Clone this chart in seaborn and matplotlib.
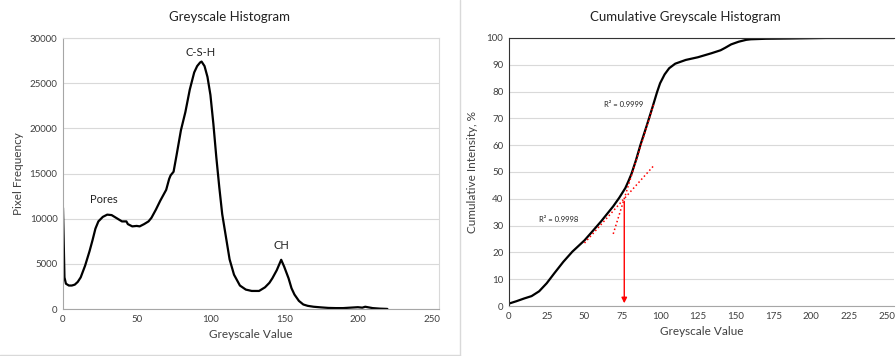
"""Greyscale histogram and cumulative histogram"""

import numpy as np
import pandas as pd
import seaborn as sns
import matplotlib.pyplot as plt
from matplotlib.lines import Line2D

sns.set_style("white")
plt.rcParams["font.family"] = ["Lato", "DejaVu Sans"]

# greyscale histogram
grey_values = [0, 1, 2, 4, 6, 8, 10, 12, 15, 18, 20, 22, 24, 27, 30, 33, 36, 40, 43,
               44, 47, 50, 52, 55, 58, 60, 63, 66, 70, 72, 73, 75, 77, 80, 83, 86, 89,
               91, 93, 94, 96, 98, 100, 102, 104, 106, 108, 110, 113, 116, 120, 124,
               128, 133, 137, 140, 142, 145, 148, 150, 153, 155, 157, 160, 163, 166,
               170, 175, 180, 185, 190, 195, 200, 203, 205, 210, 215, 220]
pixel_freq = [11200, 3500, 2800, 2600, 2600, 2700, 3000, 3500, 4800, 6400, 7600, 8900,
              9700, 10200, 10450, 10400, 10100, 9700, 9700, 9400, 9150, 9200, 9150,
              9400, 9700, 10100, 11000, 12000, 13200, 14400, 14800, 15200, 17000,
              19800, 21800, 24300, 26200, 26900, 27300, 27400, 26900, 25700, 23700,
              20500, 16800, 13500, 10500, 8500, 5500, 3800, 2600, 2150, 2000, 2000,
              2400, 2900, 3400, 4300, 5450, 4700, 3400, 2300, 1600, 900, 500, 350,
              250, 180, 120, 100, 100, 150, 200, 150, 250, 100, 40, 10]

# cumulative curve
cum_grey = [0, 5, 10, 15, 20, 25, 30, 36, 42, 50, 55, 61, 65, 69, 73, 77, 79, 81, 84,
            87, 91, 95, 98, 100, 103, 106, 110, 117, 125, 134, 140, 143, 147, 152,
            157, 160, 170, 186, 210, 255]
cum_pct = [0.9, 1.8, 2.8, 3.7, 5.5, 8.5, 12.2, 16.5, 20.3, 24.5, 27.7, 31.6, 34.4, 37.2,
           40.4, 44.0, 46.5, 49.2, 54.3, 60.1, 67.0, 74.2, 79.8, 83.1, 86.4, 88.7,
           90.4, 91.8, 92.8, 94.3, 95.4, 96.3, 97.6, 98.6, 99.3, 99.5, 99.7, 99.8,
           100.0, 100.0]

# linear fits (start/end points)
fit1_x = [50, 95.4]
fit1_y = [23.5, 52.1]
fit2_x = [69, 96]
fit2_y = [26.9, 75.6]

hist = pd.DataFrame({"Greyscale Value": grey_values, "Pixel Frequency": pixel_freq})
cum = pd.DataFrame({"Greyscale Value": cum_grey, "Cumulative": cum_pct})

fig = plt.figure(figsize=(8.96, 3.56), dpi=100)
ax1 = fig.add_axes([0.0703, 0.132, 0.4196, 0.761])
ax2 = fig.add_axes([0.568, 0.1404, 0.4302, 0.753])

grid_col = "#d9d9d9"
spine_col = "#a6a6a6"
text_col = "#404040"

# left: histogram
sns.lineplot(data=hist, x="Greyscale Value", y="Pixel Frequency", color="black",
             lw=1.6, ax=ax1)
ax1.set_xlim(0, 255)
ax1.set_ylim(0, 30000)
ax1.set_xticks(range(0, 251, 50))
ax1.set_yticks(range(0, 30001, 5000))
ax1.yaxis.grid(True, color=grid_col, lw=0.8)
ax1.set_xlabel("Greyscale Value", fontsize=8.5, color=text_col, labelpad=4)
ax1.set_ylabel("Pixel Frequency", fontsize=8.5, color=text_col, labelpad=4)
for s in ax1.spines.values():
    s.set_color(grid_col)
ax1.spines["bottom"].set_color(spine_col)
ax1.spines["left"].set_color(spine_col)
ax1.text(28, 12100, "Pores", ha="center", va="center", fontsize=8, color="#222222")
ax1.text(93, 28400, "C-S-H", ha="center", va="center", fontsize=8, color="#222222")
ax1.text(148, 7000, "CH", ha="center", va="center", fontsize=8, color="#222222")

# right: cumulative
sns.lineplot(data=cum, x="Greyscale Value", y="Cumulative", color="black", lw=1.6,
             ax=ax2)
ax2.plot(fit1_x, fit1_y, color="red", ls=":", lw=1.1)
ax2.plot(fit2_x, fit2_y, color="red", ls=":", lw=1.1)
m1 = (fit1_y[1] - fit1_y[0]) / (fit1_x[1] - fit1_x[0])
m2 = (fit2_y[1] - fit2_y[0]) / (fit2_x[1] - fit2_x[0])
xi = (fit2_y[0] - fit1_y[0] + m1 * fit1_x[0] - m2 * fit2_x[0]) / (m1 - m2)
yi = fit1_y[0] + m1 * (xi - fit1_x[0])
ax2.annotate("", xy=(xi, 0), xytext=(xi, yi),
             arrowprops=dict(arrowstyle="-|>", color="red", lw=1, mutation_scale=8))
ax2.text(76, 75, "R² = 0.9999", ha="center", va="center", fontsize=5.5, color="#222222")
ax2.text(33, 32.2, "R² = 0.9998", ha="center", va="center", fontsize=5.5, color="#222222")
ax2.set_xlim(0, 255)
ax2.set_ylim(0, 100)
ax2.set_xticks(range(0, 251, 25))
ax2.set_yticks(range(0, 101, 10))
ax2.yaxis.grid(True, color=grid_col, lw=0.8)
ax2.set_xlabel("Greyscale Value", fontsize=8.5, color=text_col, labelpad=4)
ax2.set_ylabel("Cumulative Intensity, %", fontsize=8.5, color=text_col, labelpad=6)
ax2.spines["top"].set_color("#333333")
ax2.spines["left"].set_color("#333333")
ax2.spines["bottom"].set_color(spine_col)
ax2.spines["right"].set_visible(False)

for ax in (ax1, ax2):
    ax.tick_params(labelsize=7, colors=text_col, length=0, pad=4)

fig.text(0.256, 0.953, "Greyscale Histogram", ha="center", va="center",
         fontsize=9.5, color="#222222")
fig.text(0.765, 0.953, "Cumulative Greyscale Histogram", ha="center", va="center",
         fontsize=9.5, color="#222222")

# panel frame lines
fig.add_artist(Line2D([0.513, 0.513], [0, 1], color=grid_col, lw=1))
fig.add_artist(Line2D([0, 0.513], [0.004, 0.004], color=grid_col, lw=1))

fig.savefig("out.png", dpi=100)
